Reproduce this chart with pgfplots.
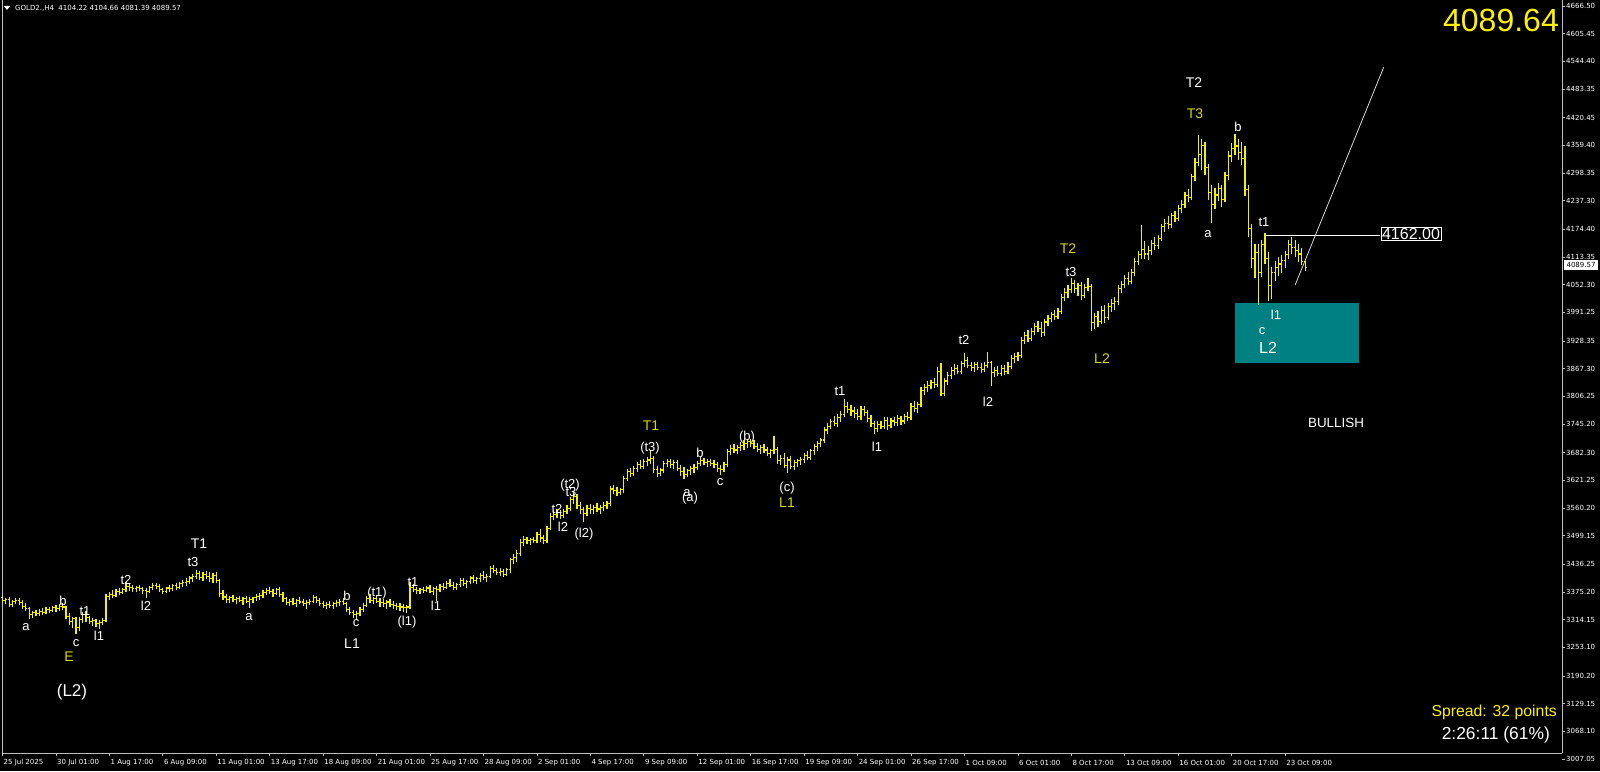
\documentclass[border=0pt]{standalone}
\usepackage{fontspec}
\setmainfont{Liberation Sans}
\newfontfamily\dejavu{DejaVu Sans}
\usepackage{pgfplots}
\usepackage{pgfplotstable}
\pgfplotsset{compat=1.18}

\definecolor{barcol}{RGB}{240,240,0}
\definecolor{lblyel}{RGB}{215,215,0}
\definecolor{frame}{RGB}{190,190,190}
\definecolor{zone}{RGB}{0,128,128}

% open tick to the left, close tick to the right (MT4 style bars)
\pgfdeclareplotmark{openl}{\pgfpathmoveto{\pgfqpoint{-1.6pt}{0pt}}\pgfpathlineto{\pgfqpoint{0pt}{0pt}}\pgfusepathqstroke}
\pgfdeclareplotmark{closer}{\pgfpathmoveto{\pgfqpoint{0pt}{0pt}}\pgfpathlineto{\pgfqpoint{1.6pt}{0pt}}\pgfusepathqstroke}

% GOLD H4 bars: index, open, high, low, close
\pgfplotstableread{
i o h l c
0 3362 3366 3350 3356
1 3356 3361 3348 3358
2 3358 3363 3342 3348
3 3348 3357 3343 3354
4 3354 3361 3348 3357
5 3357 3362 3347 3352
6 3352 3357 3338 3344
7 3344 3351 3333 3338
8 3338 3341 3316 3325
9 3325 3333 3318 3329
10 3329 3335 3322 3328
11 3328 3337 3323 3333
12 3333 3339 3324 3330
13 3330 3341 3326 3337
14 3337 3343 3328 3335
15 3335 3344 3330 3340
16 3340 3347 3332 3338
17 3338 3349 3334 3344
18 3344 3351 3336 3342
19 3342 3345 3316 3322
20 3322 3329 3303 3310
21 3310 3319 3296 3316
22 3316 3321 3282 3296
23 3296 3319 3290 3314
24 3314 3331 3306 3326
25 3326 3333 3310 3318
26 3318 3323 3304 3310
27 3310 3317 3300 3312
28 3312 3316 3298 3305
29 3305 3313 3294 3308
30 3308 3317 3302 3312
31 3312 3371 3308 3366
32 3366 3375 3358 3370
33 3370 3379 3362 3368
34 3368 3381 3363 3377
35 3377 3383 3368 3374
36 3374 3385 3370 3380
37 3380 3398 3376 3388
38 3388 3393 3378 3386
39 3386 3391 3376 3383
40 3383 3389 3374 3385
41 3385 3391 3378 3382
42 3382 3387 3370 3378
43 3378 3383 3362 3376
44 3376 3389 3372 3386
45 3386 3395 3380 3390
46 3390 3396 3382 3387
47 3387 3392 3374 3380
48 3380 3385 3370 3376
49 3376 3387 3372 3384
50 3384 3391 3376 3382
51 3382 3393 3378 3389
52 3389 3395 3380 3386
53 3386 3397 3382 3393
54 3393 3401 3386 3396
55 3396 3405 3388 3398
56 3398 3411 3392 3406
57 3406 3415 3398 3410
58 3410 3424 3403 3415
59 3415 3421 3402 3408
60 3408 3419 3400 3414
61 3414 3421 3404 3410
62 3410 3419 3398 3405
63 3405 3417 3396 3412
64 3412 3419 3394 3400
65 3400 3403 3364 3372
66 3372 3379 3358 3364
67 3364 3371 3350 3358
68 3358 3367 3350 3362
69 3362 3369 3352 3358
70 3358 3365 3348 3360
71 3360 3367 3352 3356
72 3356 3363 3346 3360
73 3360 3367 3350 3355
74 3355 3363 3340 3358
75 3358 3365 3350 3362
76 3362 3371 3356 3366
77 3366 3373 3358 3368
78 3368 3379 3362 3374
79 3374 3383 3368 3378
80 3378 3387 3370 3376
81 3376 3381 3364 3372
82 3372 3385 3368 3380
83 3380 3387 3364 3370
84 3370 3375 3354 3360
85 3360 3365 3346 3352
86 3352 3359 3344 3354
87 3354 3361 3346 3350
88 3350 3359 3343 3356
89 3356 3363 3348 3353
90 3353 3359 3344 3350
91 3350 3357 3338 3352
92 3352 3359 3346 3355
93 3355 3369 3350 3362
94 3362 3367 3350 3356
95 3356 3361 3344 3350
96 3350 3355 3340 3346
97 3346 3353 3338 3348
98 3348 3355 3340 3345
99 3345 3353 3338 3350
100 3350 3357 3342 3352
101 3352 3359 3344 3355
102 3355 3361 3346 3350
103 3350 3353 3330 3336
104 3336 3341 3324 3330
105 3330 3335 3318 3326
106 3326 3333 3316 3328
107 3328 3341 3322 3336
108 3336 3351 3330 3346
109 3346 3367 3342 3360
110 3360 3371 3350 3356
111 3356 3365 3348 3360
112 3360 3367 3350 3355
113 3355 3361 3342 3352
114 3352 3359 3342 3350
115 3350 3357 3338 3353
116 3353 3359 3342 3348
117 3348 3355 3338 3346
118 3346 3351 3336 3344
119 3344 3351 3334 3342
120 3342 3349 3332 3340
121 3340 3347 3328 3342
122 3342 3398 3338 3386
123 3386 3393 3374 3380
124 3380 3387 3370 3378
125 3378 3385 3370 3380
126 3380 3387 3372 3378
127 3378 3389 3374 3384
128 3384 3391 3372 3376
129 3376 3387 3368 3382
130 3382 3389 3356 3380
131 3380 3393 3376 3388
132 3388 3395 3380 3386
133 3386 3399 3382 3394
134 3394 3403 3386 3390
135 3390 3397 3380 3386
136 3386 3395 3380 3392
137 3392 3405 3386 3400
138 3400 3407 3388 3394
139 3394 3401 3384 3398
140 3398 3411 3392 3406
141 3406 3413 3394 3400
142 3400 3409 3392 3404
143 3404 3417 3398 3412
144 3412 3421 3402 3408
145 3408 3415 3398 3410
146 3410 3433 3406 3426
147 3426 3435 3416 3422
148 3422 3429 3412 3418
149 3418 3427 3410 3420
150 3420 3425 3408 3414
151 3414 3429 3410 3424
152 3424 3451 3418 3446
153 3446 3459 3436 3452
154 3452 3467 3442 3460
155 3460 3491 3454 3484
156 3484 3499 3476 3490
157 3490 3497 3480 3488
158 3488 3495 3478 3490
159 3490 3497 3482 3488
160 3488 3507 3482 3502
161 3502 3513 3486 3494
162 3494 3501 3480 3488
163 3488 3521 3482 3516
164 3516 3549 3512 3542
165 3542 3553 3534 3546
166 3546 3557 3538 3550
167 3550 3555 3536 3544
168 3544 3559 3538 3552
169 3552 3567 3546 3560
170 3560 3585 3554 3578
171 3578 3596 3568 3586
172 3586 3591 3558 3566
173 3566 3573 3546 3556
174 3556 3563 3530 3548
175 3548 3567 3542 3560
176 3560 3569 3548 3556
177 3556 3567 3548 3562
178 3562 3571 3552 3558
179 3558 3567 3548 3562
180 3562 3573 3554 3566
181 3566 3575 3558 3570
182 3570 3609 3564 3602
183 3602 3611 3590 3598
184 3598 3607 3586 3594
185 3594 3605 3588 3600
186 3600 3631 3594 3626
187 3626 3647 3620 3640
188 3640 3649 3628 3636
189 3636 3653 3630 3648
190 3648 3661 3640 3656
191 3656 3665 3646 3652
192 3652 3669 3646 3662
193 3662 3673 3652 3666
194 3666 3686 3658 3670
195 3670 3675 3638 3646
196 3646 3653 3628 3636
197 3636 3649 3630 3644
198 3644 3663 3638 3658
199 3658 3669 3650 3662
200 3662 3669 3648 3656
201 3656 3665 3646 3660
202 3660 3665 3642 3648
203 3648 3655 3630 3640
204 3640 3651 3624 3634
205 3634 3647 3628 3642
206 3642 3653 3634 3648
207 3648 3657 3638 3650
208 3650 3663 3644 3658
209 3658 3672 3652 3664
210 3664 3671 3654 3660
211 3660 3669 3650 3662
212 3662 3669 3652 3658
213 3658 3665 3648 3656
214 3656 3661 3640 3648
215 3648 3655 3634 3646
216 3646 3661 3640 3656
217 3656 3691 3650 3684
218 3684 3699 3678 3692
219 3692 3701 3682 3688
220 3688 3699 3680 3694
221 3694 3705 3686 3698
222 3698 3709 3688 3702
223 3702 3712 3692 3706
224 3706 3712 3694 3702
225 3702 3709 3690 3696
226 3696 3703 3684 3690
227 3690 3699 3680 3694
228 3694 3701 3682 3688
229 3688 3695 3674 3680
230 3680 3691 3670 3686
231 3686 3718 3680 3690
232 3690 3695 3658 3664
233 3664 3677 3654 3670
234 3670 3681 3648 3654
235 3654 3673 3638 3666
236 3666 3675 3646 3652
237 3652 3665 3644 3660
238 3660 3669 3650 3664
239 3664 3673 3656 3668
240 3668 3681 3660 3676
241 3676 3685 3666 3672
242 3672 3691 3666 3686
243 3686 3701 3678 3696
244 3696 3707 3686 3702
245 3702 3715 3694 3710
246 3710 3739 3704 3732
247 3732 3747 3724 3740
248 3740 3757 3734 3750
249 3750 3763 3740 3746
250 3746 3767 3738 3760
251 3760 3773 3750 3766
252 3766 3800 3760 3784
253 3784 3793 3770 3778
254 3778 3787 3764 3774
255 3774 3783 3758 3768
256 3768 3779 3754 3762
257 3762 3785 3754 3778
258 3778 3785 3762 3770
259 3770 3777 3750 3758
260 3758 3765 3738 3746
261 3746 3753 3724 3736
262 3736 3751 3728 3744
263 3744 3753 3734 3740
264 3740 3761 3734 3754
265 3754 3761 3732 3742
266 3742 3759 3736 3752
267 3752 3761 3742 3748
268 3748 3765 3740 3758
269 3758 3763 3744 3752
270 3752 3767 3746 3762
271 3762 3771 3752 3760
272 3760 3791 3754 3784
273 3784 3795 3772 3780
274 3780 3793 3770 3788
275 3788 3827 3782 3820
276 3820 3833 3810 3826
277 3826 3839 3816 3830
278 3830 3843 3822 3836
279 3836 3847 3824 3832
280 3832 3871 3826 3862
281 3862 3880 3806 3812
282 3812 3847 3806 3840
283 3840 3859 3832 3852
284 3852 3871 3844 3864
285 3864 3877 3854 3868
286 3868 3875 3856 3862
287 3862 3885 3856 3878
288 3878 3902 3870 3886
289 3886 3893 3868 3874
290 3874 3883 3862 3870
291 3870 3881 3860 3876
292 3876 3883 3864 3870
293 3870 3879 3858 3866
294 3866 3881 3860 3874
295 3874 3904 3868 3880
296 3880 3885 3828 3858
297 3858 3871 3848 3864
298 3864 3873 3850 3856
299 3856 3875 3850 3868
300 3868 3875 3854 3862
301 3862 3881 3856 3872
302 3872 3897 3866 3890
303 3890 3901 3880 3894
304 3894 3903 3884 3896
305 3896 3937 3890 3930
306 3930 3949 3922 3940
307 3940 3953 3926 3934
308 3934 3957 3928 3950
309 3950 3967 3942 3960
310 3960 3973 3948 3956
311 3956 3969 3938 3946
312 3946 3977 3940 3970
313 3970 3985 3962 3978
314 3978 3993 3970 3986
315 3986 3997 3974 3982
316 3982 4001 3976 3994
317 3994 4031 3988 4024
318 4024 4045 4016 4036
319 4036 4051 4024 4042
320 4042 4066 4034 4054
321 4054 4063 4034 4044
322 4044 4057 4028 4050
323 4050 4059 4018 4028
324 4028 4053 4022 4046
325 4046 4066 4038 4048
326 4048 4053 3950 3968
327 3968 3991 3954 3982
328 3982 3995 3958 3972
329 3972 4005 3966 3996
330 3996 4007 3968 3980
331 3980 4013 3974 4004
332 4004 4021 3992 4010
333 4010 4025 3996 4016
334 4016 4051 4008 4044
335 4044 4061 4034 4052
336 4052 4073 4044 4066
337 4066 4081 4052 4060
338 4060 4087 4054 4080
339 4080 4111 4072 4104
340 4104 4127 4096 4118
341 4118 4184 4110 4130
342 4130 4149 4108 4120
343 4120 4137 4106 4128
344 4128 4151 4118 4144
345 4144 4157 4128 4138
346 4138 4161 4130 4154
347 4154 4187 4148 4180
348 4180 4197 4168 4188
349 4188 4203 4176 4184
350 4184 4211 4178 4204
351 4204 4215 4190 4198
352 4198 4227 4192 4220
353 4220 4239 4210 4230
354 4230 4257 4222 4248
355 4248 4263 4234 4244
356 4244 4297 4238 4290
357 4290 4331 4280 4322
358 4322 4382 4314 4340
359 4340 4373 4304 4360
360 4360 4367 4294 4310
361 4310 4319 4238 4256
362 4256 4273 4188 4230
363 4230 4265 4220 4250
364 4250 4277 4236 4264
365 4264 4271 4224 4240
366 4240 4301 4234 4292
367 4292 4347 4284 4336
368 4336 4365 4322 4352
369 4352 4384 4338 4358
370 4358 4373 4328 4344
371 4344 4367 4316 4330
372 4330 4357 4248 4262
373 4262 4271 4158 4176
374 4176 4185 4088 4110
375 4110 4141 4068 4124
376 4124 4141 4008 4080
377 4080 4151 4070 4140
378 4140 4166 4098 4110
379 4110 4125 4016 4050
380 4050 4091 4020 4080
381 4080 4105 4060 4090
382 4090 4113 4072 4098
383 4098 4117 4078 4106
384 4106 4127 4090 4118
385 4118 4151 4108 4140
386 4140 4158 4120 4134
387 4134 4151 4114 4128
388 4128 4143 4102 4120
389 4120 4133 4096 4104
390 4104.22 4104.66 4081.39 4089.57
}\gold

\begin{document}
\begin{tikzpicture}[x=1pt,y=1pt]
\fill[black] (0,0) rectangle (1600,771);
\useasboundingbox (0,0) rectangle (1600,771);
\begin{axis}[
  at={(2pt,18pt)}, anchor=south west,
  scale only axis, width=1560pt, height=753pt,
  xmin=-0.15, xmax=466.9, ymin=3020.3, ymax=4679.7,
  axis x line*=bottom, axis y line*=right,
  x axis line style={-}, y axis line style={-},
  axis line style={frame, line width=1pt},
  tick align=outside, major tick length=3pt,
  tick style={frame, line width=0.8pt},
  ytick={4666.50,4605.45,4544.40,4483.35,4420.45,4359.40,4298.35,4237.30,4174.40,4113.35,4052.30,3991.25,3928.35,3867.30,3806.25,3745.20,3682.30,3621.25,3560.20,3499.15,3436.25,3375.20,3314.15,3253.10,3190.20,3129.15,3068.10},
  yticklabels={4666.50,4605.45,4544.40,4483.35,4420.45,4359.40,4298.35,4237.30,4174.40,4113.35,4052.30,3991.25,3928.35,3867.30,3806.25,3745.20,3682.30,3621.25,3560.20,3499.15,3436.25,3375.20,3314.15,3253.10,3190.20,3129.15,3068.10},
  yticklabel style={font=\dejavu\fontsize{7}{8}\selectfont, text=white, inner sep=1pt},
  xtick={0,16,...,384},
  xticklabels={25 Jul 2025,30 Jul 01:00,1 Aug 17:00,6 Aug 09:00,11 Aug 01:00,13 Aug 17:00,18 Aug 09:00,21 Aug 01:00,25 Aug 17:00,28 Aug 09:00,2 Sep 01:00,4 Sep 17:00,9 Sep 09:00,12 Sep 01:00,16 Sep 17:00,19 Sep 09:00,24 Sep 01:00,26 Sep 17:00,1 Oct 09:00,6 Oct 01:00,8 Oct 17:00,13 Oct 09:00,16 Oct 01:00,20 Oct 17:00,23 Oct 09:00},
  xticklabel style={font=\dejavu\fontsize{7}{8}\selectfont, text=white, anchor=west, inner sep=0pt, xshift=1pt, yshift=-7pt},
]
\draw[frame, line width=1pt] (rel axis cs:0,0) -- (rel axis cs:0,1);
% support zone
\addplot[fill=zone, draw=none] coordinates {(369,3880) (406.1,3880) (406.1,4012) (369,4012)} -- cycle;
% bars: high-low line, open and close ticks
\addplot[draw=none, mark=none, error bars/.cd, y dir=plus, y explicit, error mark=none,
  error bar style={barcol, line width=1.2pt}]
  table[x=i, y=l, y error plus expr=\thisrow{h}-\thisrow{l}] {\gold};
\addplot[only marks, mark=openl, mark options={barcol, line width=1.1pt}] table[x=i, y=o] {\gold};
\addplot[only marks, mark=closer, mark options={barcol, line width=1.1pt}] table[x=i, y=c] {\gold};
% level line and trend line
\addplot[white, line width=0.8pt] coordinates {(378.3,4162) (412.4,4162)};
\addplot[white!85!black, line width=0.8pt] coordinates {(387.0,4051.6) (413.5,4531.4)};
\end{axis}

% header
\fill[white] (4,765) -- (10,765) -- (7,761) -- cycle;
\node[anchor=west, inner sep=0pt, text=white, font=\dejavu\fontsize{7}{8}\selectfont] at (15,763) {GOLD2.,H4\ \ 4104.22 4104.66 4081.39 4089.57};
% bottom price label and current price box
\draw[frame, line width=0.8pt] (1562,12) -- (1565,12);
\node[anchor=west, inner sep=1pt, text=white, font=\dejavu\fontsize{7}{8}\selectfont] at (1565,12) {3007.05};
\node[fill=white, text=black, inner sep=0pt, minimum width=34pt, minimum height=10pt, font=\dejavu\fontsize{7}{8}\selectfont] at (1581,506) {4089.57};
% level label
\node[draw=white, fill=black, text=white, inner sep=1.2pt, line width=0.8pt, font=\fontsize{16}{16}\selectfont] at (1411,537) {4162.00};
% big price and info
\node[anchor=east, inner sep=0pt, text=yellow, font=\fontsize{32}{32}\selectfont] at (1559,751) {4089.64};
\node[anchor=base east, inner sep=0pt, text=yellow, font=\fontsize{15.8}{16}\selectfont] at (1557,54.3) {Spread: 32 points};
\node[anchor=base east, inner sep=0pt, text=white, font=\fontsize{17.4}{18}\selectfont] at (1550,31.8) {2:26:11 (61\%)};
\node[inner sep=0pt, text=white, font=\fontsize{13.4}{14}\selectfont] at (1336,348) {BULLISH};
% wave labels, white
\foreach \x/\y/\t in {26/627/a, 63/601/b, 85/611/t1, 76/643/c, 99/636/l1, 126/580/t2, 146/606/l2,
  193/562/t3, 249/617/a, 347/596/b, 356/623/c, 377/593/(t1), 407/622/(l1), 413/582/t1, 436/606/l1,
  557/509/t2, 563/527/l2, 570/485/(t2), 571/492/t3, 584/534/(l2), 650/448/(t3), 700/453/b,
  687/493/a, 690/498/(a), 720/482/c, 747/437/(b), 787/488/(c), 840/391/t1, 877/447/l1,
  964/340/t2, 988/402/l2, 1071/272/t3, 1238/127/b, 1208/234/a, 1264/222/t1, 1276/315/l1, 1262/331/c}
  \node[inner sep=0pt, text=white, font=\fontsize{13}{13}\selectfont] at (\x,771-\y) {\t};
\foreach \x/\y/\t in {199/544/T1, 352/644/L1, 1194/83/T2}
  \node[inner sep=0pt, text=white, font=\fontsize{14}{14}\selectfont] at (\x,771-\y) {\t};
\node[inner sep=0pt, text=white, font=\fontsize{16}{16}\selectfont] at (1268,771-348) {L2};
\node[inner sep=0pt, text=white, font=\fontsize{17}{17}\selectfont] at (72,771-692) {(L2)};
% wave labels, yellow
\foreach \x/\y/\t in {69/657/E, 651/426/T1, 787/503/L1, 1068/249/T2, 1102/359/L2, 1195/114/T3}
  \node[inner sep=0pt, text=lblyel, font=\fontsize{14}{14}\selectfont] at (\x,771-\y) {\t};
\end{tikzpicture}
\end{document}
